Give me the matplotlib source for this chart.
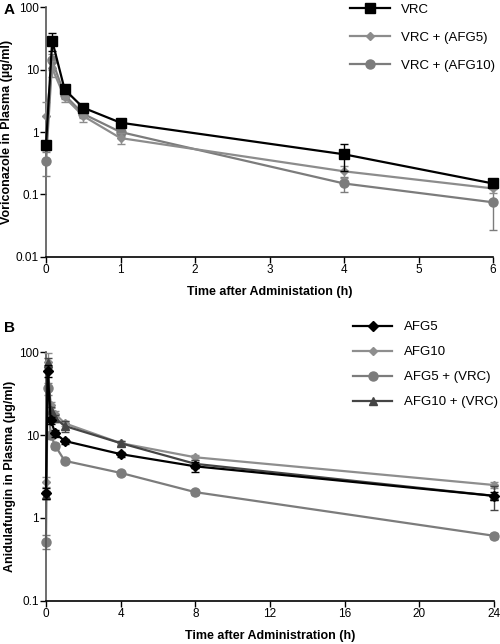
import matplotlib
matplotlib.use("Agg")
import matplotlib.pyplot as plt
import numpy as np

plt.rcParams["font.family"] = ["Liberation Sans", "DejaVu Sans"]
plt.rcParams["font.size"] = 8.5

# ── Panel A: voriconazole ─────────────────────────────────────────────
time_a       = [0, 0.083, 0.25, 0.5, 1, 4, 6]
vrc          = [0.62, 29, 4.8, 2.45, 1.41, 0.44, 0.15]
vrc_sd       = [0.1, 9, 0.5, 0.3, 0.1, 0.2, 0.02]
vrc_afg5     = [1.78, 10.5, 3.6, 1.8, 0.8, 0.235, 0.125]
vrc_afg5_sd  = [1.2, 3, 0.6, 0.35, 0.15, 0.05, 0.02]
vrc_afg10    = [0.34, 14, 3.9, 1.95, 1.0, 0.15, 0.075]
vrc_afg10_sd = [0.14, 4, 0.5, 0.3, 0.15, 0.04, 0.048]

# ── Panel B: anidulafungin ────────────────────────────────────────────
time_b        = [0, 0.083, 0.25, 0.5, 1, 4, 8, 24]
afg5          = [2.0, 60, 15.2, 10.5, 8.5, 5.9, 4.2, 1.85]
afg5_sd       = [0.3, 10, 1.5, 1.0, 0.6, 0.4, 0.6, 0.2]
afg10         = [2.75, 77, 23, 18, 13.9, 8.0, 5.4, 2.5]
afg10_sd      = [0.4, 20, 2, 1.5, 1.0, 0.5, 0.4, 0.2]
afg5_vrc      = [0.52, 36.8, 10, 7.4, 4.9, 3.5, 2.05, 0.61]
afg5_vrc_sd   = [0.1, 6, 1, 0.6, 0.3, 0.2, 0.15, 0.05]
afg10_vrc     = [1.9, 75, 20, 16, 12.9, 8.0, 4.5, 1.85]
afg10_vrc_sd  = [0.2, 10, 2, 1.5, 2.0, 0.6, 0.5, 0.6]


def style_axes(ax, xmax, xticks, ylim, ylabel, xlabel):
    ax.set_yscale("log")
    ax.set_xlim(0, xmax)
    ax.set_ylim(*ylim)
    ax.set_xticks(xticks)
    ax.yaxis.set_major_formatter(matplotlib.ticker.FuncFormatter(lambda v, p: f"{v:g}"))
    ax.yaxis.set_minor_locator(matplotlib.ticker.NullLocator())
    ax.spines["top"].set_visible(False)
    ax.spines["right"].set_visible(False)
    ax.spines["left"].set_color("#555555")
    ax.spines["left"].set_linewidth(1.2)
    ax.spines["bottom"].set_linewidth(1.2)
    ax.tick_params(length=4, width=1, pad=1)
    ax.set_ylabel(ylabel, fontweight="bold", fontsize=9, labelpad=2)
    ax.set_xlabel(xlabel, fontweight="bold", fontsize=9, labelpad=7)


def series(ax, x, y, sd, color, marker, ms, label, z):
    eb = ax.errorbar(x, y, yerr=sd, color=color, marker=marker, markersize=ms,
                     linewidth=1.6, elinewidth=1, capsize=3, capthick=1,
                     zorder=z, clip_on=False)
    line = eb.lines[0]
    line.set_label(label)
    return line


leg_kw = dict(loc="upper left", frameon=False, fontsize=9.5, borderpad=0,
              borderaxespad=0, handlelength=3.0, handletextpad=0.9)

fig = plt.figure(figsize=(5, 6.44), dpi=100)
ax1 = fig.add_axes([0.092, 0.601, 0.894, 0.388])
ax2 = fig.add_axes([0.092, 0.067, 0.896, 0.386])

l_afg10 = series(ax1, time_a, vrc_afg10, vrc_afg10_sd, "#7c7c7c", "o", 6.5, "VRC + (AFG10)", 3)
l_afg5 = series(ax1, time_a, vrc_afg5, vrc_afg5_sd, "#8c8c8c", "D", 4, "VRC + (AFG5)", 4)
l_vrc = series(ax1, time_a, vrc, vrc_sd, "black", "s", 7, "VRC", 5)
style_axes(ax1, 6, range(0, 7), (0.01, 100),
           "Voriconazole in Plasma (µg/ml)", "Time after Administation (h)")
ax1.legend(handles=[l_vrc, l_afg5, l_afg10], bbox_to_anchor=(0.68, 1.014),
           labelspacing=1.2, **leg_kw)

b_afg5_vrc = series(ax2, time_b, afg5_vrc, afg5_vrc_sd, "#7c7c7c", "o", 6.5, "AFG5 + (VRC)", 2)
b_afg10 = series(ax2, time_b, afg10, afg10_sd, "#8e8e8e", "D", 4, "AFG10", 3)
b_afg10_vrc = series(ax2, time_b, afg10_vrc, afg10_vrc_sd, "#454545", "^", 6, "AFG10 + (VRC)", 4)
b_afg5 = series(ax2, time_b, afg5, afg5_sd, "black", "D", 5, "AFG5", 5)
style_axes(ax2, 24, range(0, 25, 4), (0.1, 100),
           "Anidulafungin in Plasma (µg/ml)", "Time after Administration (h)")
ax2.legend(handles=[b_afg5, b_afg10, b_afg5_vrc, b_afg10_vrc],
           bbox_to_anchor=(0.685, 1.126), labelspacing=0.97, **leg_kw)

fig.text(0.008, 0.985, "A", fontweight="bold", fontsize=11, va="center")
fig.text(0.008, 0.49, "B", fontweight="bold", fontsize=11, va="center")

fig.savefig("out.png", dpi=100)
